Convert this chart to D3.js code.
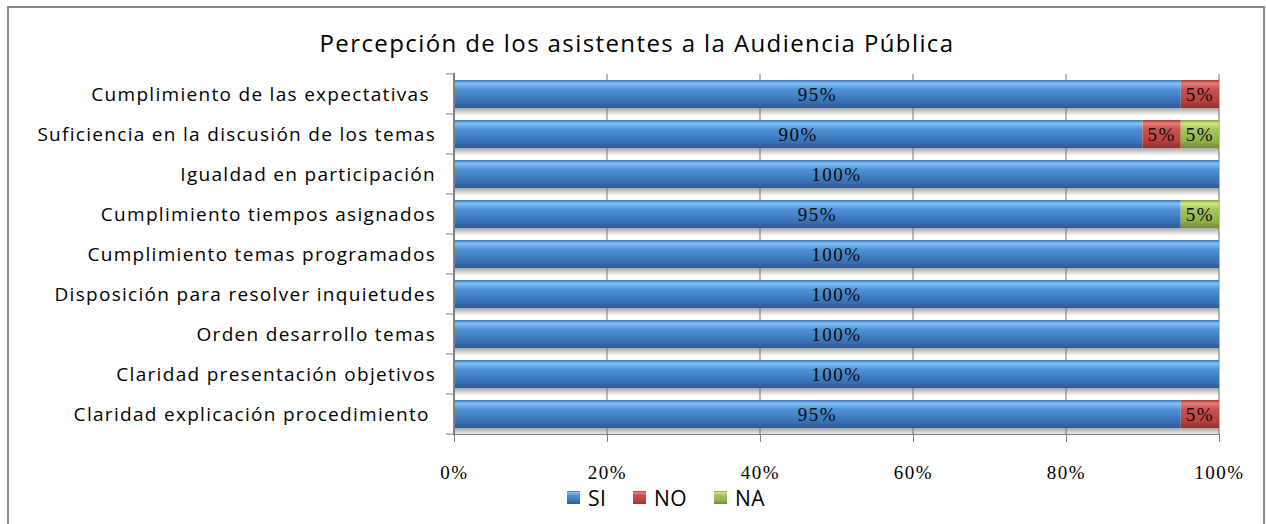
<!DOCTYPE html>
<meta charset="utf-8">
<style>
  body { margin: 0; background: #fff; }
  .cat { font: 19px "Open Sans", "Liberation Sans", sans-serif; letter-spacing: 1.3px; fill: #000; text-anchor: end; white-space: pre; }
  .val { font: 19px "Liberation Serif", "DejaVu Serif", serif; letter-spacing: 1.5px; fill: #0a0a0a; text-anchor: middle; }
  .xaxis text { font: 19px "Liberation Serif", "DejaVu Serif", serif; letter-spacing: 1.5px; fill: #000; }
  .leg { font: 21px "Open Sans", "Liberation Sans", sans-serif; letter-spacing: 0.5px; fill: #000; }
</style>
<body>
<script src="https://d3js.org/d3.v7.min.js"></script>
<script>
  // categories, top to bottom
  let categories = [
    "Cumplimiento de las expectativas ",
    "Suficiencia en la discusión de los temas",
    "Igualdad en participación",
    "Cumplimiento tiempos asignados",
    "Cumplimiento temas programados",
    "Disposición para resolver inquietudes",
    "Orden desarrollo temas",
    "Claridad presentación objetivos",
    "Claridad explicación procedimiento "
  ];
  let seriesNames = ["SI", "NO", "NA"];
  let si = [95, 90, 100, 95, 100, 100, 100, 100, 95];
  let no = [5, 5, 0, 0, 0, 0, 0, 0, 5];
  let na = [0, 5, 0, 5, 0, 0, 0, 0, 0];
  let xTicks = [0, 20, 40, 60, 80, 100];

  let width = 1266, height = 524;
  let plotLeft = 454, plotRight = 1219, plotTop = 74, plotBottom = 434;

  let svg = d3.select("body").append("svg")
      .attr("width", width)
      .attr("height", height);

  // gradients for the bevelled bars
  let defs = svg.append("defs");
  let palettes = {
    SI: ["#3a6fae", "#80c0f7", "#4f8fd3", "#3a74b8", "#2d5b92"],
    NO: ["#a33a37", "#e57a76", "#c9504c", "#b9423f", "#8e302d"],
    NA: ["#7f9a3f", "#cde781", "#a4c45c", "#93b24d", "#708a36"]
  };
  Object.keys(palettes).forEach(function(k) {
    let p = palettes[k];
    let g = defs.append("linearGradient").attr("id", "grad" + k)
        .attr("x1", 0).attr("x2", 0).attr("y1", 0).attr("y2", 1);
    [[0, p[0]], [0.12, p[1]], [0.35, p[2]], [0.75, p[3]], [1, p[4]]].forEach(function(s) {
      g.append("stop").attr("offset", s[0]).attr("stop-color", s[1]);
    });
  });
  let shadow = defs.append("linearGradient").attr("id", "shadow")
      .attr("x1", 0).attr("x2", 0).attr("y1", 0).attr("y2", 1);
  shadow.append("stop").attr("offset", 0).attr("stop-color", "#a9a9a9");
  shadow.append("stop").attr("offset", 1).attr("stop-color", "#f4f4f4");

  // outer frame
  svg.append("rect")
      .attr("x", 8).attr("y", 7)
      .attr("width", 1256).attr("height", 530)
      .attr("fill", "none").attr("stroke", "#888").attr("stroke-width", 2);

  svg.append("text")
      .attr("x", 637).attr("y", 52)
      .attr("text-anchor", "middle")
      .style("font", "24px 'Open Sans', 'Liberation Sans', sans-serif")
      .style("letter-spacing", "1.4px")
      .text("Percepción de los asistentes a la Audiencia Pública");

  let x = d3.scaleLinear().domain([0, 100]).range([plotLeft, plotRight]);
  let y = d3.scaleBand().domain(categories).range([plotTop, plotBottom]).paddingInner(0.3).paddingOuter(0.15);

  // floor shadows under each bar
  svg.append("g").selectAll("rect")
      .data(categories)
      .join("rect")
      .attr("x", plotLeft)
      .attr("y", function(d) { return y(d) + y.bandwidth(); })
      .attr("width", plotRight - plotLeft)
      .attr("height", 7)
      .attr("fill", "url(#shadow)");

  // gridlines
  svg.append("g").selectAll("line")
      .data(xTicks.slice(1))
      .join("line")
      .attr("x1", function(d) { return x(d); })
      .attr("x2", function(d) { return x(d); })
      .attr("y1", plotTop).attr("y2", plotBottom)
      .attr("stroke", "#707070").attr("stroke-width", 1);

  // stacked data
  let rows = categories.map(function(c, i) {
    return { cat: c, SI: si[i], NO: no[i], NA: na[i] };
  });
  let stack = d3.stack().keys(seriesNames)(rows);

  let layers = svg.append("g").selectAll("g")
      .data(stack)
      .join("g")
      .attr("fill", function(d) { return "url(#grad" + d.key + ")"; });

  layers.selectAll("rect")
      .data(function(d) { return d.filter(function(s) { return s[1] > s[0]; }); })
      .join("rect")
      .attr("x", function(d) { return x(d[0]); })
      .attr("y", function(d) { return y(d.data.cat); })
      .attr("width", function(d) { return x(d[1]) - x(d[0]); })
      .attr("height", y.bandwidth());

  layers.selectAll("text")
      .data(function(d) { return d.filter(function(s) { return s[1] > s[0]; }); })
      .join("text")
      .attr("class", "val")
      .attr("x", function(d) { return (x(d[0]) + x(d[1])) / 2; })
      .attr("y", function(d) { return y(d.data.cat) + y.bandwidth() / 2 + 7; })
      .text(function(d) { return (d[1] - d[0]) + "%"; });

  // category axis
  let ga = svg.append("g");
  ga.append("line")
      .attr("x1", plotLeft).attr("x2", plotLeft).attr("y1", plotTop - 1).attr("y2", plotBottom + 1)
      .attr("stroke", "#808080").attr("stroke-width", 2);
  let bounds = d3.range(categories.length + 1).map(function(i) { return plotTop + i * (plotBottom - plotTop) / categories.length; });
  ga.selectAll(".yt")
      .data(bounds)
      .join("line")
      .attr("class", "yt")
      .attr("x1", plotLeft - 8).attr("x2", plotLeft)
      .attr("y1", function(d) { return d; }).attr("y2", function(d) { return d; })
      .attr("stroke", "#808080").attr("stroke-width", 1);
  ga.selectAll("text")
      .data(categories)
      .join("text")
      .attr("class", "cat")
      .attr("x", plotLeft - 18)
      .attr("y", function(d) { return y(d) + y.bandwidth() / 2 + 7; })
      .text(function(d) { return d; });

  // value axis
  let xAxis = svg.append("g")
      .attr("class", "xaxis")
      .attr("transform", "translate(0," + plotBottom + ")")
      .call(d3.axisBottom(x).tickValues(xTicks).tickFormat(function(d) { return d + "%"; }).tickSize(8).tickPadding(24));
  xAxis.attr("font-size", null).attr("font-family", null);
  xAxis.select(".domain").attr("stroke", "#808080");
  xAxis.selectAll("line").attr("stroke", "#808080");

  // legend
  let legX = [567, 633, 714];
  let leg = svg.append("g").selectAll("g")
      .data(seriesNames)
      .join("g")
      .attr("transform", function(d, i) { return "translate(" + legX[i] + ",491)"; });
  leg.append("rect")
      .attr("width", 13).attr("height", 13)
      .attr("fill", function(d) { return "url(#grad" + d + ")"; });
  leg.append("text")
      .attr("class", "leg")
      .attr("x", 21).attr("y", 15)
      .text(function(d) { return d; });
</script>
</body>
